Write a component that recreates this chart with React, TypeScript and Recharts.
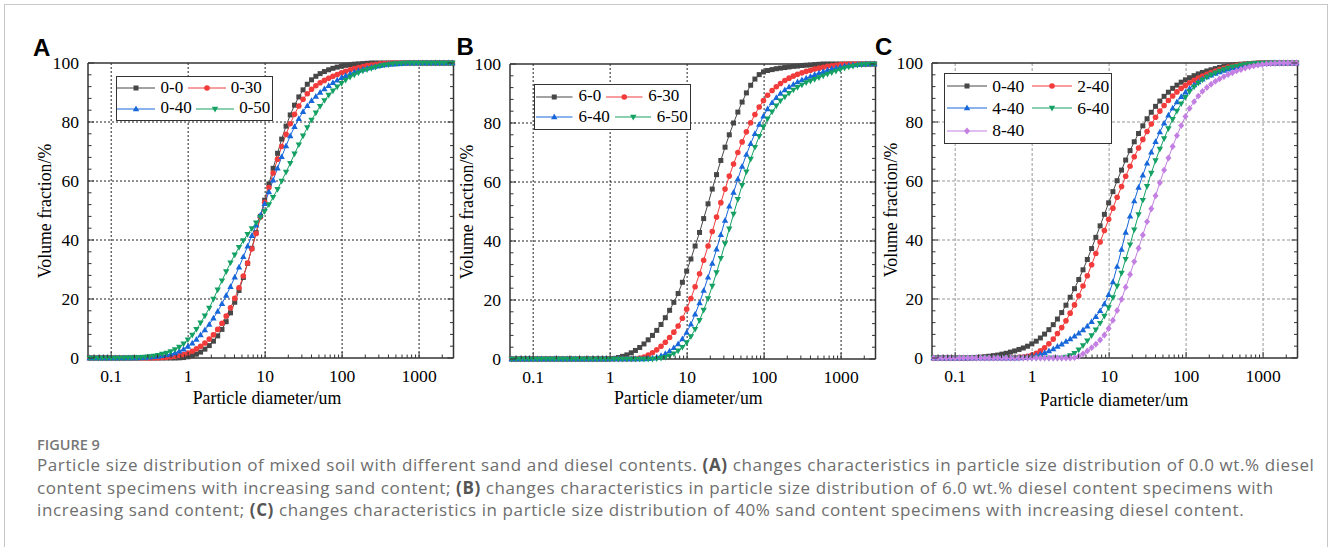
import React from "react";
import { LineChart, Line, XAxis, YAxis, CartesianGrid } from "recharts";

// particle size classes (um)
const sizes = [
  0.0526, 0.0597, 0.0679, 0.0771, 0.0876, 0.0995, 0.113, 0.128, 0.146, 0.166,
  0.188, 0.214, 0.243, 0.276, 0.314, 0.357, 0.405, 0.46, 0.523, 0.594,
  0.675, 0.767, 0.872, 0.991, 1.13, 1.28, 1.45, 1.65, 1.88, 2.13,
  2.42, 2.75, 3.12, 3.55, 4.03, 4.58, 5.21, 5.92, 6.72, 7.64,
  8.68, 9.86, 11.2, 12.7, 14.5, 16.4, 18.7, 21.2, 24.1, 27.4,
  31.1, 35.3, 40.1, 45.6, 51.8, 58.9, 66.9, 76, 86.4, 98.1,
  111, 127, 144, 163, 186, 211, 240, 272, 310, 352,
  400, 454, 516, 586, 666, 756, 859, 976, 1110, 1260,
  1430, 1630, 1850, 2100, 2390, 2710,
];

// panel A
const a00 = [
  0, 0, 0, 0, 0, 0, 0, 0, 0, 0,
  0, 0, 0, 0, 0, 0, 0, 0, 0, 0,
  0, 0.05, 0.15, 0.4, 0.8, 1.3, 2.0, 3.0, 4.2, 5.7,
  7.5, 9.7, 12.3, 15.3, 18.9, 22.9, 27.3, 32.1, 37.2, 42.5,
  48, 53.5, 59, 64.3, 69.4, 74.2, 78.6, 82.4, 85.7, 88.5,
  90.9, 92.8, 94.3, 95.5, 96.4, 97.1, 97.7, 98.2, 98.6, 98.9,
  99.2, 99.4, 99.6, 99.7, 99.8, 99.9, 100, 100, 100, 100,
  100, 100, 100, 100, 100, 100, 100, 100, 100, 100,
  100, 100, 100, 100, 100, 100,
];
const a30 = [
  0, 0, 0, 0, 0, 0, 0, 0, 0, 0,
  0, 0, 0, 0, 0.02, 0.05, 0.1, 0.15, 0.25, 0.4,
  0.6, 0.85, 1.2, 1.7, 2.3, 3.1, 4.0, 5.1, 6.4, 7.9,
  9.7, 11.8, 14.2, 17.0, 20.2, 23.8, 27.8, 32.2, 37.0, 42.2,
  47.8, 52.8, 57.8, 62.7, 67.4, 71.7, 75.8, 79.4, 82.6, 85.4,
  87.7, 89.6, 91.1, 92.3, 93.3, 94.1, 94.8, 95.5, 96.1, 96.7,
  97.2, 97.7, 98.1, 98.5, 98.8, 99.1, 99.3, 99.5, 99.7, 99.8,
  99.9, 100, 100, 100, 100, 100, 100, 100, 100, 100,
  100, 100, 100, 100, 100, 100,
];
const a40 = [
  0, 0, 0, 0, 0, 0, 0, 0, 0, 0,
  0, 0.05, 0.1, 0.2, 0.3, 0.4, 0.55, 0.75, 1.0, 1.3,
  1.75, 2.3, 3.0, 3.9, 5.0, 6.3, 7.8, 9.5, 11.4, 13.5,
  15.8, 18.4, 21.2, 24.2, 27.4, 30.8, 34.3, 37.9, 41.5, 45.0,
  48.4, 52.3, 56.3, 60.3, 64.3, 68.2, 71.9, 75.3, 78.4, 81.1,
  83.5, 85.5, 87.2, 88.7, 90.0, 91.2, 92.3, 93.3, 94.2, 95.0,
  95.7, 96.3, 96.9, 97.4, 97.8, 98.2, 98.5, 98.8, 99.1, 99.3,
  99.5, 99.6, 99.7, 99.8, 99.9, 100, 100, 100, 100, 100,
  100, 100, 100, 100, 100, 100,
];
const a50 = [
  0, 0, 0, 0, 0, 0, 0, 0, 0, 0.05,
  0.1, 0.15, 0.25, 0.35, 0.5, 0.7, 0.95, 1.3, 1.7, 2.2,
  2.9, 3.7, 4.8, 6.2, 7.8, 9.7, 11.9, 14.3, 16.9, 20.0,
  23.1, 26.2, 29.3, 32.3, 35.0, 37.5, 39.8, 41.9, 43.9, 45.8,
  47.7, 49.7, 52.0, 54.5, 57.2, 60.0, 63.0, 66.0, 69.2, 72.3,
  75.3, 78.1, 80.7, 83.1, 85.3, 87.3, 89.1, 90.6, 91.9, 93.1,
  94.2, 95.2, 96.0, 96.7, 97.3, 97.8, 98.2, 98.6, 99.0, 99.3,
  99.5, 99.7, 99.8, 99.9, 100, 100, 100, 100, 100, 100,
  100, 100, 100, 100, 100, 100,
];

// panel B
const b00 = [
  0, 0, 0, 0, 0, 0, 0, 0, 0, 0,
  0, 0, 0, 0, 0, 0, 0, 0, 0, 0,
  0, 0, 0, 0.05, 0.2, 0.5, 0.9, 1.4, 2.1, 2.9,
  3.9, 5.1, 6.5, 8.0, 9.7, 11.7, 14.0, 16.5, 19.2, 22.2,
  26.0, 29.8, 33.9, 38.3, 42.9, 47.6, 52.6, 57.6, 62.5, 67.3,
  71.8, 76.0, 80.0, 83.7, 87.1, 90.2, 92.8, 94.9, 96.4, 97.3,
  97.8, 98.1, 98.4, 98.6, 98.8, 99.0, 99.2, 99.3, 99.5, 99.6,
  99.7, 99.8, 99.9, 100, 100, 100, 100, 100, 100, 100,
  100, 100, 100, 100, 100, 100,
];
const b30 = [
  0, 0, 0, 0, 0, 0, 0, 0, 0, 0,
  0, 0, 0, 0, 0, 0, 0, 0, 0, 0,
  0, 0, 0, 0, 0, 0, 0, 0, 0, 0.1,
  0.3, 0.7, 1.3, 2.1, 3.1, 4.3, 5.7, 7.3, 9.1, 11.2,
  13.8, 16.9, 20.5, 24.5, 28.9, 33.5, 38.3, 43.2, 48.1, 53.0,
  57.6, 62.0, 66.1, 70.0, 73.6, 77.0, 80.1, 82.9, 85.4, 87.6,
  89.4, 91.0, 92.3, 93.4, 94.4, 95.2, 95.9, 96.5, 97.0, 97.5,
  97.9, 98.3, 98.6, 98.9, 99.2, 99.4, 99.6, 99.8, 99.9, 100,
  100, 100, 100, 100, 100, 100,
];
const b40 = [
  0, 0, 0, 0, 0, 0, 0, 0, 0, 0,
  0, 0, 0, 0, 0, 0, 0, 0, 0, 0,
  0, 0, 0, 0, 0, 0, 0, 0, 0, 0,
  0, 0, 0.1, 0.3, 0.6, 1.1, 1.8, 2.7, 3.8, 5.1,
  6.8, 9.0, 11.8, 15.2, 19.0, 23.2, 27.7, 32.4, 37.2, 42.1,
  47.0, 51.8, 56.5, 61.0, 65.3, 69.3, 73.0, 76.4, 79.5, 82.3,
  84.8, 86.9, 88.6, 90.0, 91.2, 92.2, 93.1, 93.9, 94.6, 95.2,
  95.8, 96.4, 96.9, 97.4, 97.9, 98.3, 98.7, 99.0, 99.3, 99.5,
  99.7, 99.8, 99.9, 100, 100, 100,
];
const b50 = [
  0, 0, 0, 0, 0, 0, 0, 0, 0, 0,
  0, 0, 0, 0, 0, 0, 0, 0, 0, 0,
  0, 0, 0, 0, 0, 0, 0, 0, 0, 0,
  0, 0, 0, 0, 0.1, 0.3, 0.6, 1.1, 1.8, 2.8,
  4.0, 5.6, 7.6, 10.1, 13.1, 16.6, 20.5, 24.7, 29.3, 34.1,
  39.1, 44.1, 49.1, 54.1, 58.9, 63.5, 67.8, 71.8, 75.5, 78.7,
  81.4, 83.8, 85.8, 87.5, 88.9, 90.1, 91.2, 92.1, 92.9, 93.7,
  94.2, 94.8, 95.4, 96.0, 96.6, 97.1, 97.6, 98.1, 98.6, 99.0,
  99.3, 99.6, 99.8, 99.9, 100, 100,
];

// panel C
const c00 = [
  0, 0, 0, 0, 0, 0, 0, 0, 0, 0.1,
  0.2, 0.3, 0.45, 0.6, 0.8, 1.0, 1.3, 1.6, 2.0, 2.4,
  2.9, 3.4, 4.0, 4.8, 5.7, 6.8, 8.1, 9.6, 11.3, 13.2,
  15.4, 17.9, 20.6, 23.5, 26.6, 29.9, 33.4, 37.1, 40.9, 44.8,
  48.7, 52.6, 56.4, 60.1, 63.7, 67.1, 70.3, 73.3, 76.1, 78.7,
  81.1, 83.3, 85.3, 87.1, 88.7, 90.1, 91.4, 92.5, 93.5, 94.3,
  95.0, 95.7, 96.3, 96.8, 97.3, 97.7, 98.1, 98.5, 98.8, 99.1,
  99.3, 99.5, 99.6, 99.7, 99.8, 99.9, 100, 100, 100, 100,
  100, 100, 100, 100, 100, 100,
];
const c20 = [
  0, 0, 0, 0, 0, 0, 0, 0, 0, 0,
  0, 0, 0, 0, 0, 0, 0, 0, 0.05, 0.1,
  0.2, 0.35, 0.6, 1.0, 1.6, 2.4, 3.5, 4.8, 6.4, 8.3,
  10.3, 12.6, 15.2, 18.0, 21.1, 24.4, 27.9, 31.6, 35.4, 39.3,
  43.2, 47.0, 50.8, 54.5, 58.1, 61.6, 65.0, 68.2, 71.2, 74.1,
  76.8, 79.3, 81.6, 83.7, 85.6, 87.3, 88.8, 90.2, 91.4, 92.4,
  93.3, 94.1, 94.9, 95.6, 96.2, 96.8, 97.3, 97.8, 98.2, 98.6,
  98.9, 99.2, 99.4, 99.6, 99.7, 99.8, 99.9, 100, 100, 100,
  100, 100, 100, 100, 100, 100,
];
const c40 = [
  0, 0, 0, 0, 0, 0, 0, 0, 0, 0,
  0, 0, 0, 0, 0, 0, 0, 0, 0, 0,
  0, 0.1, 0.3, 0.6, 0.9, 1.3, 1.8, 2.4, 3.1, 3.9,
  4.7, 5.6, 6.5, 7.4, 8.4, 9.5, 10.8, 12.3, 14.0, 16.0,
  18.3, 21.5, 25.8, 31.0, 36.8, 42.6, 48.1, 53.2, 57.8, 62.0,
  66.0, 69.8, 73.3, 76.6, 79.6, 82.3, 84.7, 86.8, 88.6, 90.1,
  91.4, 92.6, 93.6, 94.5, 95.3, 95.9, 96.5, 97.0, 97.5, 97.9,
  98.3, 98.6, 98.9, 99.2, 99.4, 99.6, 99.7, 99.8, 99.9, 100,
  100, 100, 100, 100, 100, 100,
];
const c60 = [
  0, 0, 0, 0, 0, 0, 0, 0, 0, 0,
  0, 0, 0, 0, 0, 0, 0, 0, 0, 0,
  0, 0, 0, 0, 0, 0, 0, 0, 0, 0,
  0, 0.3, 0.8, 1.6, 2.8, 4.2, 5.8, 7.6, 9.6, 11.8,
  14.2, 17.1, 20.5, 24.4, 28.8, 33.5, 38.4, 43.5, 48.6, 53.5,
  58.2, 62.7, 66.9, 70.8, 74.4, 77.8, 80.9, 83.7, 86.2, 88.4,
  90.3, 91.9, 93.2, 94.3, 95.2, 96.0, 96.7, 97.3, 97.8, 98.3,
  98.7, 99.0, 99.3, 99.5, 99.7, 99.8, 99.9, 100, 100, 100,
  100, 100, 100, 100, 100, 100,
];
const c80 = [
  0, 0, 0, 0, 0, 0, 0, 0, 0, 0,
  0, 0, 0, 0, 0, 0, 0, 0, 0, 0,
  0, 0, 0, 0, 0, 0, 0, 0, 0, 0,
  0, 0, 0, 0.1, 0.6, 1.4, 2.4, 3.5, 4.7, 6.1,
  7.8, 10.0, 12.8, 16.1, 19.9, 24.0, 28.3, 32.7, 37.2, 41.7,
  46.2, 50.6, 55.0, 59.4, 63.7, 67.8, 71.7, 75.4, 78.8, 81.9,
  84.6, 86.9, 88.8, 90.4, 91.7, 92.8, 93.8, 94.6, 95.4, 96.1,
  96.7, 97.3, 97.8, 98.3, 98.7, 99.0, 99.3, 99.5, 99.7, 99.8,
  99.9, 100, 100, 100, 100, 100,
];

const xMajor = [0.1, 1, 10, 100, 1000];
const xMinor = [
  0.06, 0.07, 0.08, 0.09, 0.2, 0.3, 0.4, 0.5, 0.6, 0.7, 0.8, 0.9,
  2, 3, 4, 5, 6, 7, 8, 9, 20, 30, 40, 50, 60, 70, 80, 90,
  200, 300, 400, 500, 600, 700, 800, 900, 2000,
];
const xTicks = [...xMajor, ...xMinor].sort((a, b) => a - b);
const yTicks = [
  0, 4, 8, 12, 16, 20, 24, 28, 32, 36, 40, 44, 48, 52, 56, 60, 64, 68, 72,
  76, 80, 84, 88, 92, 96, 100,
];
const yGrid = [20, 40, 60, 80];

const SERIF = '"Liberation Serif", "Times New Roman", serif';
const AXIS = "#333";
const GRAY = "#474747";
const RED = "#F23C3C";
const BLUE = "#1767DA";
const GREEN = "#14A163";
const VIOLET = "#C37FE2";
const TICK_FONT = 17.6;
const TITLE_FONT = 17.8;

type Shape = "square" | "circle" | "up" | "down" | "diamond";
type Series = { key: string; name: string; color: string; shape: Shape; values: number[] };

function Marker({ cx, cy, shape, color }: { cx: number; cy: number; shape: Shape; color: string }) {
  if (cx == null || cy == null || isNaN(cx) || isNaN(cy)) return null;
  if (shape === "square")
    return <rect x={cx - 2.5} y={cy - 2.5} width={5} height={5} fill={color} />;
  if (shape === "circle") return <circle cx={cx} cy={cy} r={2.8} fill={color} />;
  if (shape === "up")
    return <polygon points={`${cx},${cy - 3.4} ${cx + 3.2},${cy + 2.3} ${cx - 3.2},${cy + 2.3}`} fill={color} />;
  if (shape === "down")
    return <polygon points={`${cx},${cy + 3.4} ${cx + 3.2},${cy - 2.3} ${cx - 3.2},${cy - 2.3}`} fill={color} />;
  return <polygon points={`${cx},${cy - 3.4} ${cx + 3},${cy} ${cx},${cy + 3.4} ${cx - 3},${cy}`} fill={color} />;
}

const BottomTick = (props: any) => {
  const { x, y, payload } = props;
  const major = xMajor.includes(payload.value);
  return (
    <g>
      <line x1={x} x2={x} y1={y} y2={y - (major ? 6 : 3.5)} stroke={AXIS} strokeWidth={1} />
      {major && (
        <text x={x} y={y + 24} textAnchor="middle" fontSize={TICK_FONT} fontFamily={SERIF} fill="#000">
          {payload.value}
        </text>
      )}
    </g>
  );
};
const TopTick = (props: any) => {
  const { x, y, payload } = props;
  const major = xMajor.includes(payload.value);
  return <line x1={x} x2={x} y1={y} y2={y + (major ? 6 : 3.5)} stroke={AXIS} strokeWidth={1} />;
};
const LeftTick = (props: any) => {
  const { x, y, payload } = props;
  const major = payload.value % 20 === 0;
  return (
    <g>
      <line x1={x} x2={x + (major ? 6 : 3.5)} y1={y} y2={y} stroke={AXIS} strokeWidth={1} />
      {major && (
        <text x={x - 9} y={y + 5.9} textAnchor="end" fontSize={TICK_FONT} fontFamily={SERIF} fill="#000">
          {payload.value}
        </text>
      )}
    </g>
  );
};
const RightTick = (props: any) => {
  const { x, y, payload } = props;
  const major = payload.value % 20 === 0;
  return <line x1={x} x2={x - (major ? 6 : 3.5)} y1={y} y2={y} stroke={AXIS} strokeWidth={1} />;
};

type Panel = {
  letter: string;
  letterX: number;
  letterY: number;
  plotL: number;
  plotT: number;
  gridColor: string;
  gridDash: string;
  series: Series[];
  legend: {
    left: number;
    top: number;
    rowH: number;
    lineW: number;
    textGap: number;
    entryGap: number;
    padL: number;
    fontSize: number;
    rows: number[][];
  };
  yTitleX: number;
  xTitleX: number;
  xTitleY: number;
};

const PLOT_W = 365.5;
const PLOT_H = 295;
const LEFT_W = 60;

const panels: Panel[] = [
  {
    letter: "A", letterX: 33, letterY: 35.5, plotL: 87.5, plotT: 63,
    gridColor: "#222", gridDash: "2 2",
    series: [
      { key: "s1", name: "0-0", color: GRAY, shape: "square", values: a00 },
      { key: "s2", name: "0-30", color: RED, shape: "circle", values: a30 },
      { key: "s3", name: "0-40", color: BLUE, shape: "up", values: a40 },
      { key: "s4", name: "0-50", color: GREEN, shape: "down", values: a50 },
    ],
    legend: { left: 115.7, top: 75.9, rowH: 20.6, lineW: 38, textGap: 5, entryGap: 4.5, padL: 0.8, fontSize: 17, rows: [[0, 1], [2, 3]] },
    yTitleX: 45, xTitleX: 267, xTitleY: 398,
  },
  {
    letter: "B", letterX: 456.5, letterY: 35, plotL: 510, plotT: 64.3,
    gridColor: "#222", gridDash: "2 2",
    series: [
      { key: "s1", name: "6-0", color: GRAY, shape: "square", values: b00 },
      { key: "s2", name: "6-30", color: RED, shape: "circle", values: b30 },
      { key: "s3", name: "6-40", color: BLUE, shape: "up", values: b40 },
      { key: "s4", name: "6-50", color: GREEN, shape: "down", values: b50 },
    ],
    legend: { left: 534.3, top: 84.2, rowH: 20.7, lineW: 36.5, textGap: 5.5, entryGap: 5, padL: 1.2, fontSize: 17, rows: [[0, 1], [2, 3]] },
    yTitleX: 466.7, xTitleX: 688.3, xTitleY: 398,
  },
  {
    letter: "C", letterX: 875, letterY: 34.5, plotL: 932.3, plotT: 62.7,
    gridColor: "#999", gridDash: "3 2",
    series: [
      { key: "s1", name: "0-40", color: GRAY, shape: "square", values: c00 },
      { key: "s2", name: "2-40", color: RED, shape: "circle", values: c20 },
      { key: "s3", name: "4-40", color: BLUE, shape: "up", values: c40 },
      { key: "s4", name: "6-40", color: GREEN, shape: "down", values: c60 },
      { key: "s5", name: "8-40", color: VIOLET, shape: "diamond", values: c80 },
    ],
    legend: { left: 944.3, top: 72.8, rowH: 22.3, lineW: 40, textGap: 5.4, entryGap: 7.5, padL: 1.5, fontSize: 17.5, rows: [[0, 1], [2, 3], [4]] },
    yTitleX: 890.7, xTitleX: 1114, xTitleY: 400,
  },
];

function LegendBox({ panel }: { panel: Panel }) {
  const L = panel.legend;
  return (
    <div
      style={{
        position: "absolute",
        left: L.left,
        top: L.top,
        border: `1.5px solid ${AXIS}`,
        background: "#fff",
        padding: `1px 2px 1px ${L.padL}px`,
        fontFamily: SERIF,
        fontSize: L.fontSize,
        lineHeight: `${L.rowH}px`,
        color: "#000",
      }}
    >
      {L.rows.map((row, ri) => (
        <div key={ri} style={{ display: "flex", alignItems: "center", height: L.rowH, whiteSpace: "nowrap" }}>
          {row.map((idx, j) => {
            const s = panel.series[idx];
            return (
              <React.Fragment key={s.key}>
                <svg width={L.lineW} height={10} style={{ marginLeft: j ? L.entryGap : 0, display: "block" }}>
                  <line x1={0} x2={L.lineW} y1={5} y2={5} stroke={s.color} strokeWidth={1} />
                  <Marker cx={L.lineW / 2} cy={5} shape={s.shape} color={s.color} />
                </svg>
                <span style={{ marginLeft: L.textGap }}>{s.name}</span>
              </React.Fragment>
            );
          })}
        </div>
      ))}
    </div>
  );
}

function PanelChart({ panel }: { panel: Panel }) {
  const rows = sizes.map((s, i) => {
    const r: any = { size: s };
    panel.series.forEach((se) => (r[se.key] = se.values[i]));
    return r;
  });
  const axisLine = { stroke: AXIS, strokeWidth: 1.5 };
  return (
    <>
      <div style={{ position: "absolute", left: panel.plotL - LEFT_W, top: panel.plotT - 11 }}>
        <LineChart
          width={LEFT_W + PLOT_W + 1 + 10}
          height={11 + PLOT_H + 45}
          data={rows}
          margin={{ top: 10, right: 10, bottom: 0, left: 0 }}
        >
          <CartesianGrid
            stroke={panel.gridColor}
            strokeDasharray={panel.gridDash}
            strokeWidth={1}
            verticalValues={xMajor}
            horizontalValues={yGrid}
          />
          <XAxis
            dataKey="size"
            type="number"
            scale="log"
            domain={[0.05, 2800]}
            ticks={xTicks}
            interval={0}
            tickSize={0}
            tickMargin={0}
            tick={BottomTick}
            tickLine={false}
            axisLine={axisLine}
            height={45}
          />
          <XAxis
            xAxisId="top"
            orientation="top"
            type="number"
            scale="log"
            domain={[0.05, 2800]}
            allowDataOverflow
            ticks={xTicks}
            interval={0}
            tickSize={0}
            tickMargin={0}
            tick={TopTick}
            tickLine={false}
            axisLine={axisLine}
            height={1}
          />
          <YAxis
            type="number"
            domain={[0, 100]}
            ticks={yTicks}
            interval={0}
            tickSize={0}
            tickMargin={0}
            tick={LeftTick}
            tickLine={false}
            axisLine={axisLine}
            width={LEFT_W}
          />
          <YAxis
            yAxisId="right"
            orientation="right"
            type="number"
            domain={[0, 100]}
            allowDataOverflow
            ticks={yTicks}
            interval={0}
            tickSize={0}
            tickMargin={0}
            tick={RightTick}
            tickLine={false}
            axisLine={axisLine}
            width={1}
          />
          {panel.series.map((s) => (
            <Line
              key={s.key}
              dataKey={s.key}
              type="linear"
              stroke={s.color}
              strokeWidth={1}
              isAnimationActive={false}
              activeDot={false}
              dot={(p: any) => (
                <Marker key={`${s.key}-${p.index}`} cx={p.cx} cy={p.cy} shape={s.shape} color={s.color} />
              )}
            />
          ))}
        </LineChart>
      </div>
      <LegendBox panel={panel} />
      <div
        style={{
          position: "absolute",
          left: panel.letterX,
          top: panel.letterY,
          fontFamily: '"Liberation Sans", Arial, sans-serif',
          fontWeight: 700,
          fontSize: 24,
          lineHeight: "24px",
          color: "#000",
        }}
      >
        {panel.letter}
      </div>
      <div
        style={{
          position: "absolute",
          left: panel.yTitleX,
          top: panel.plotT + PLOT_H / 2,
          transform: "translate(-50%, -50%) rotate(-90deg)",
          fontFamily: SERIF,
          fontSize: TITLE_FONT,
          lineHeight: "18px",
          whiteSpace: "nowrap",
          color: "#000",
        }}
      >
        Volume fraction/%
      </div>
      <div
        style={{
          position: "absolute",
          left: panel.xTitleX,
          top: panel.xTitleY,
          transform: "translate(-50%, -50%)",
          fontFamily: SERIF,
          fontSize: TITLE_FONT,
          lineHeight: "18px",
          whiteSpace: "nowrap",
          color: "#000",
        }}
      >
        Particle diameter/um
      </div>
    </>
  );
}

const CAP_FONT = '"Open Sans", "Noto Sans", sans-serif';
const captionLines: { text: string; bold?: boolean }[][] = [
  [
    { text: "Particle size distribution of mixed soil with different sand and diesel contents. " },
    { text: "(A)", bold: true },
    { text: " changes characteristics in particle size distribution of 0.0 wt.% diesel" },
  ],
  [
    { text: "content specimens with increasing sand content; " },
    { text: "(B)", bold: true },
    { text: " changes characteristics in particle size distribution of 6.0 wt.% diesel content specimens with" },
  ],
  [
    { text: "increasing sand content; " },
    { text: "(C)", bold: true },
    { text: " changes characteristics in particle size distribution of 40% sand content specimens with increasing diesel content." },
  ],
];

export default function App() {
  return (
    <div
      style={{
        position: "absolute",
        left: 0,
        top: 0,
        width: 1328,
        height: 547,
        background: "#fff",
        overflow: "hidden",
      }}
    >
      <div
        style={{
          position: "absolute",
          left: 4,
          top: 4,
          width: 1321.7,
          height: 700,
          border: "1px solid #c8c8c8",
        }}
      />
      {panels.map((p) => (
        <PanelChart key={p.letter} panel={p} />
      ))}
      <div
        style={{
          position: "absolute",
          left: 37,
          top: 437,
          fontFamily: '"Open Sans", sans-serif',
          fontWeight: 600,
          fontSize: 14.5,
          lineHeight: "16px",
          color: "#777",
        }}
      >
        FIGURE 9
      </div>
      {captionLines.map((line, i) => (
        <div
          key={i}
          style={{
            position: "absolute",
            left: 37,
            top: 454 + i * 22.5,
            fontFamily: CAP_FONT,
            fontSize: 17,
            letterSpacing: 0.6,
            lineHeight: "22px",
            color: "#6e6e6e",
            whiteSpace: "nowrap",
          }}
        >
          {line.map((seg, j) => (
            <span key={j} style={seg.bold ? { fontWeight: 700, color: "#555" } : undefined}>
              {seg.text}
            </span>
          ))}
        </div>
      ))}
    </div>
  );
}
